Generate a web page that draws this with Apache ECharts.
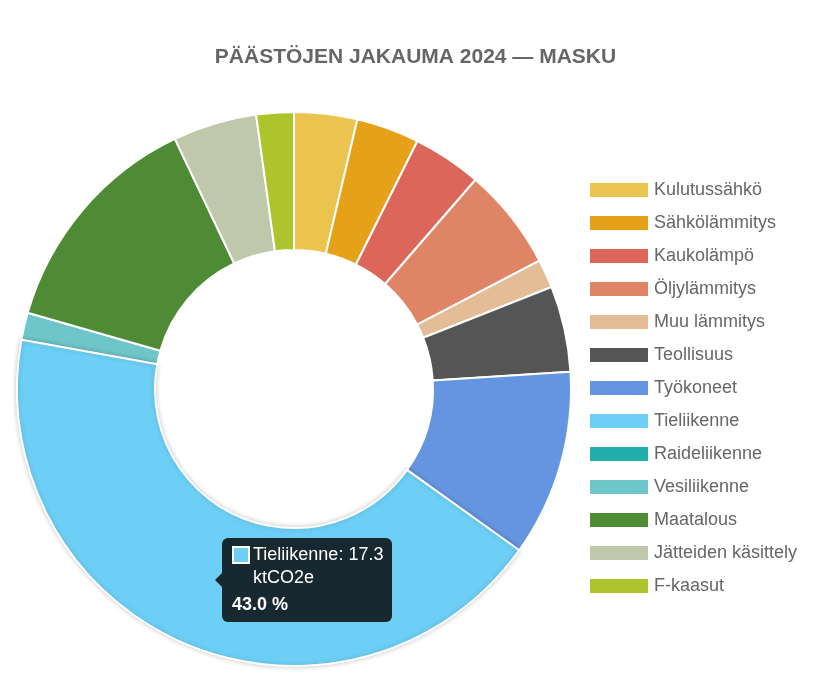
<!DOCTYPE html>
<html>
<head>
<meta charset="utf-8">
<script src="https://cdn.jsdelivr.net/npm/echarts@6/dist/echarts.min.js"></script>
<style>
  html, body { margin: 0; padding: 0; background: #fff; }
  #chart { width: 831px; height: 691px; }
</style>
</head>
<body>
<div id="chart"></div>
<script>
// Emission breakdown donut — sectors in ktCO2e
const sectors = [
  "Kulutussähkö", "Sähkölämmitys", "Kaukolämpö", "Öljylämmitys", "Muu lämmitys",
  "Teollisuus", "Työkoneet", "Tieliikenne", "Raideliikenne", "Vesiliikenne",
  "Maatalous", "Jätteiden käsittely", "F-kaasut"
];
const emissions = [1.48, 1.48, 1.62, 2.40, 0.67, 2.02, 4.38, 17.3, 0, 0.64, 5.43, 1.97, 0.88];
const sectorColors = [
  "#ebc34f", "#e5a117", "#dc6659", "#df8566", "#e4bc96",
  "#555555", "#6595e0", "#6dcff6", "#22aeaa", "#6ec6c9",
  "#4f8a35", "#c0c8ab", "#adc42c"
];
const unit = "ktCO2e";
const highlighted = 7; // Tieliikenne, shown with tooltip

const chart = echarts.init(document.getElementById("chart"), null, { renderer: "canvas" });

const option = {
  animation: false,
  backgroundColor: "#fff",
  title: {
    text: "PÄÄSTÖJEN JAKAUMA 2024 — MASKU",
    left: "center",
    top: 42,
    textStyle: { color: "#666", fontSize: 21, fontWeight: "bold", fontFamily: "Liberation Sans, Arial, sans-serif" },
  },
  tooltip: {
    trigger: "item",
    triggerOn: "none",
    alwaysShowContent: true,
    backgroundColor: "#182830",
    borderWidth: 0,
    padding: [5, 7, 6, 10],
    extraCssText: "box-shadow:none;border-radius:6px;width:153px;overflow:visible;white-space:normal;",
    textStyle: { color: "#fff", fontSize: 18, fontFamily: "Liberation Sans, Arial, sans-serif" },
    position: () => [222, 538],
    formatter: (p) => {
      const arrow = '<span style="position:absolute;left:-7px;top:50%;margin-top:-7px;width:0;height:0;' +
        'border-top:7px solid transparent;border-bottom:7px solid transparent;border-right:7px solid #182830;"></span>';
      const marker = '<span style="display:inline-block;flex:none;width:14px;height:14px;margin:3px 3px 0 0;' +
        'background:' + p.color + ';border:2px solid #fff;"></span>';
      return arrow +
        '<div style="display:flex;align-items:flex-start;line-height:23px;white-space:normal;">' + marker +
        '<span style="white-space:normal;">' + p.name + ': ' + p.value.toFixed(1) + ' ' + unit + '</span></div>' +
        '<div style="font-weight:bold;margin-top:4px;line-height:23px;">' + p.percent.toFixed(1) + ' %</div>';
    },
  },
  legend: {
    orient: "vertical",
    left: 588,
    top: 181,
    padding: 0,
    itemWidth: 60,
    itemHeight: 16,
    itemGap: 15,
    icon: "rect",
    textStyle: { color: "#666", fontSize: 18, fontFamily: "Liberation Sans, Arial, sans-serif" },
    data: sectors,
  },
  series: [
    {
      type: "pie",
      center: [294, 389],
      radius: [139, 277],
      startAngle: 90,
      clockwise: true,
      avoidLabelOverlap: false,
      label: { show: false },
      labelLine: { show: false },
      itemStyle: { borderColor: "#fff", borderWidth: 2 },
      emphasis: {
        scale: false,
        itemStyle: { shadowBlur: 5, shadowColor: "rgba(0,0,0,0.2)" },
      },
      data: sectors.map((name, i) => ({
        name,
        value: emissions[i],
        itemStyle: { color: sectorColors[i] },
        emphasis: { itemStyle: { color: sectorColors[i] } },
      })),
    },
  ],
};

chart.setOption(option);
chart.dispatchAction({ type: "highlight", seriesIndex: 0, dataIndex: highlighted });
chart.dispatchAction({ type: "showTip", seriesIndex: 0, dataIndex: highlighted });
</script>
</body>
</html>
